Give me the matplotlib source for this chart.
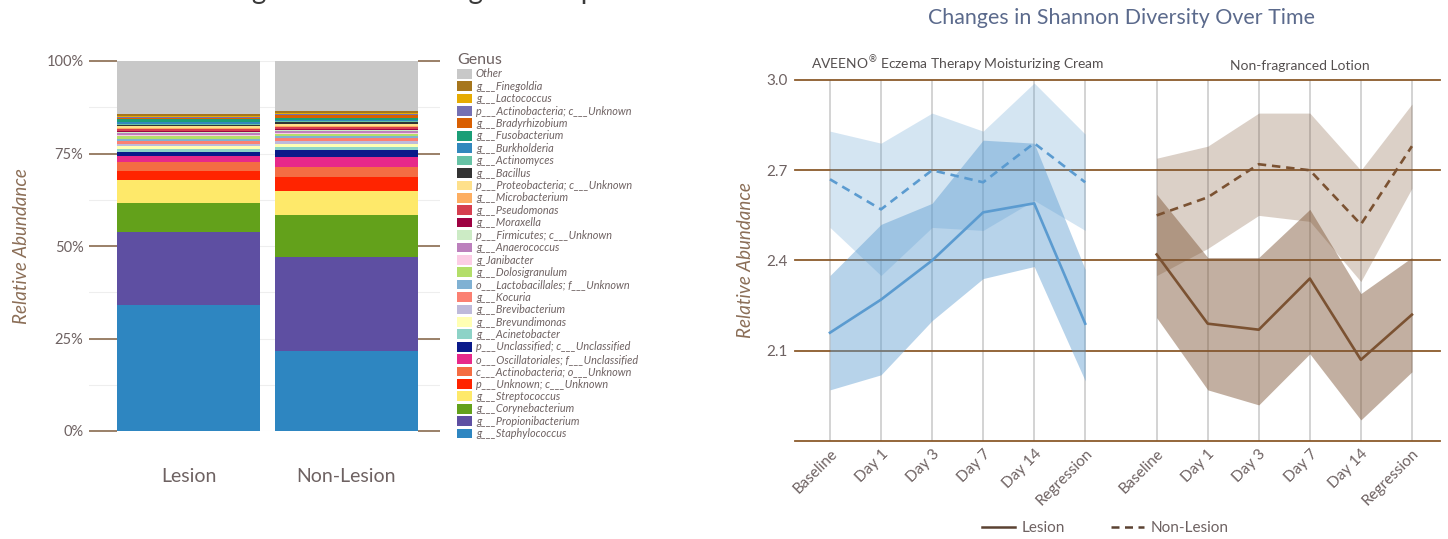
from matplotlib import pyplot as plt
from matplotlib.patches import Patch
from matplotlib.lines import Line2D
import numpy as np

plt.rcParams['font.family'] = ['Lato', 'DejaVu Sans']

# ---- left chart: genus composition (stacking order, bottom to top) ----
genera = ['g___Staphylococcus', 'g___Propionibacterium', 'g___Corynebacterium',
          'g___Streptococcus', 'p___Unknown; c___Unknown', 'c___Actinobacteria; o___Unknown',
          'o___Oscillatoriales; f___Unclassified', 'p___Unclassified; c___Unclassified',
          'g___Acinetobacter', 'g___Brevundimonas', 'g___Brevibacterium', 'g___Kocuria',
          'o___Lactobacillales; f___Unknown', 'g___Dolosigranulum', 'g_Janibacter',
          'g___Anaerococcus', 'p___Firmicutes; c___Unknown', 'g___Moraxella',
          'g___Pseudomonas', 'g___Microbacterium', 'p___Proteobacteria; c___Unknown',
          'g___Bacillus', 'g___Actinomyces', 'g___Burkholderia', 'g___Fusobacterium',
          'g___Bradyrhizobium', 'p___Actinobacteria; c___Unknown', 'g___Lactococcus',
          'g___Finegoldia', 'Other']
lesion = [34.0, 19.8, 7.9, 6.1, 2.5, 2.3, 1.6, 1.1, 0.9, 0.9, 0.5, 0.9, 0.3, 0.8, 0.3,
          0.6, 0.3, 0.3, 0.4, 0.4, 0.5, 0.2, 0.3, 0.6, 0.7, 0.3, 0.4, 0.3, 0.4, 14.4]
non_lesion = [21.6, 25.3, 11.5, 6.5, 3.8, 2.7, 2.7, 1.8, 0.8, 0.9, 0.9, 0.7, 0.6, 0.4, 0.3,
              0.5, 0.4, 0.3, 0.4, 0.4, 0.4, 0.5, 0.3, 0.4, 0.4, 0.8, 0.3, 0.4, 0.5, 13.5]
groups = ['Lesion', 'Non-Lesion']

genus_colors = ['#2e86c1', '#5e4fa2', '#63a11b', '#fee96a', '#ff2400', '#f46d43',
                '#e7298a', '#0a1a8a', '#8dd3c7', '#ffffb3', '#bebada', '#fb8072',
                '#80b1d3', '#b3de69', '#fccde5', '#bc80bd', '#ccebc5', '#9e0142',
                '#d53e4f', '#fdae61', '#fee08b', '#333333', '#66c2a5', '#3288bd',
                '#1b9e77', '#d95f02', '#7570b3', '#e6ab02', '#a6761d', '#c8c8c8']

# ---- right chart: Shannon diversity ----
timepoints = ['Baseline', 'Day 1', 'Day 3', 'Day 7', 'Day 14', 'Regression']
aveeno_lesion = [2.16, 2.27, 2.40, 2.56, 2.59, 2.19]
aveeno_lesion_lo = [1.97, 2.02, 2.20, 2.34, 2.38, 2.00]
aveeno_lesion_hi = [2.35, 2.52, 2.59, 2.80, 2.79, 2.37]
aveeno_nonlesion = [2.67, 2.57, 2.70, 2.66, 2.79, 2.66]
aveeno_nonlesion_lo = [2.51, 2.35, 2.51, 2.50, 2.60, 2.50]
aveeno_nonlesion_hi = [2.83, 2.79, 2.89, 2.83, 2.99, 2.82]
lotion_lesion = [2.42, 2.19, 2.17, 2.34, 2.07, 2.22]
lotion_lesion_lo = [2.21, 1.97, 1.92, 2.09, 1.87, 2.03]
lotion_lesion_hi = [2.62, 2.41, 2.41, 2.57, 2.29, 2.41]
lotion_nonlesion = [2.55, 2.61, 2.72, 2.70, 2.52, 2.78]
lotion_nonlesion_lo = [2.35, 2.44, 2.55, 2.53, 2.33, 2.64]
lotion_nonlesion_hi = [2.74, 2.78, 2.89, 2.89, 2.70, 2.92]
products = ['AVEENO$^{\u00ae}\\,$Eczema Therapy Moisturizing Cream', 'Non-fragranced Lotion']

W, H = 1448, 539
grey_txt = '#6e6262'
brown_lbl = '#8b6e57'

fig = plt.figure(figsize=(W / 100, H / 100), dpi=100)

# title of the left panel, cut by the top edge as in the reference
fig.text(405 / W, 1 + 1 / H, 'Average Bacteria Among All Samples', ha='center',
         va='baseline', fontsize=20, color='#3a3a3a')

# ================= left: stacked bars =================
ax1 = fig.add_axes([89 / W, 1 - 431 / H, 351 / W, 370 / H])
xb = np.arange(len(groups))
bw = 0.905
for yy in np.arange(0, 101, 12.5):
    ax1.axhline(yy, color='#eeeeee', lw=0.8, zorder=0)
for yy in [0, 25, 50, 75, 100]:
    ax1.hlines(yy, -0.63, -bw / 2, color='#9a8068', lw=1.4, zorder=1, clip_on=False)
    ax1.hlines(yy, 1 + bw / 2, 1.592, color='#9a8068', lw=1.4, zorder=1, clip_on=False)

bottoms = np.zeros(len(groups))
handles = []
for name, l, n, c in zip(genera, lesion, non_lesion, genus_colors):
    vals = np.array([l, n])
    ax1.bar(xb, vals, bottom=bottoms, width=bw, color=c, lw=0, zorder=2)
    bottoms += vals
    handles.append(Patch(facecolor=c, edgecolor='none', label=name))

ax1.set_xlim(-0.63, 1.592)
ax1.set_ylim(0, 100)
ax1.set_yticks([0, 25, 50, 75, 100], ['0%', '25%', '50%', '75%', '100%'])
ax1.set_xticks(xb, groups)
ax1.tick_params(axis='y', length=0, pad=4, labelsize=10.5, labelcolor=grey_txt)
ax1.tick_params(axis='x', length=0, pad=27, labelsize=14, labelcolor=grey_txt)
for s in ax1.spines.values():
    s.set_visible(False)
ax1.set_ylabel('Relative Abundance', fontsize=13.5, style='italic', color=brown_lbl,
               labelpad=12)

leg1 = fig.legend(handles[::-1], [h.get_label() for h in handles[::-1]],
                  loc='upper left', bbox_to_anchor=(457 / W, 1 - 53 / H),
                  title='Genus', frameon=False, borderpad=0, borderaxespad=0,
                  handlelength=1.4, handleheight=1.0, handletextpad=0.35,
                  labelspacing=0.13, prop={'size': 7.8, 'style': 'italic'},
                  labelcolor=grey_txt, alignment='left')
leg1.get_title().set_fontsize(11.5)
leg1.get_title().set_color(grey_txt)

# ================= right: diversity over time =================
blue = '#5b9bd0'
brown = '#7b5232'
x1 = np.arange(len(timepoints))
x2 = x1 + 6.4

ax2 = fig.add_axes([795 / W, 1 - 441 / H, 645 / W, 361 / H])
ax2.set_xlim(-0.685, 11.95)
ax2.set_ylim(1.8, 3.0)
for xv in np.concatenate([x1, x2]):
    ax2.axvline(xv, color='#d0d0d0', lw=1.3, zorder=0)
for yy in [1.8, 2.1, 2.4, 2.7, 3.0]:
    ax2.axhline(yy, color='#8b5a2b', lw=1.3, zorder=1, clip_on=False)

ax2.fill_between(x1, aveeno_nonlesion_lo, aveeno_nonlesion_hi, color=blue, alpha=0.26, lw=0, zorder=2)
ax2.fill_between(x1, aveeno_lesion_lo, aveeno_lesion_hi, color=blue, alpha=0.44, lw=0, zorder=2)
ax2.plot(x1, aveeno_nonlesion, color=blue, lw=1.9, ls=(0, (3.2, 2.2)), zorder=3)
ax2.plot(x1, aveeno_lesion, color=blue, lw=1.9, zorder=3)

ax2.fill_between(x2, lotion_nonlesion_lo, lotion_nonlesion_hi, color=brown, alpha=0.27, lw=0, zorder=2)
ax2.fill_between(x2, lotion_lesion_lo, lotion_lesion_hi, color=brown, alpha=0.46, lw=0, zorder=2)
ax2.plot(x2, lotion_nonlesion, color=brown, lw=1.9, ls=(0, (3.2, 2.2)), zorder=3)
ax2.plot(x2, lotion_lesion, color=brown, lw=1.9, zorder=3)

ax2.set_yticks([2.1, 2.4, 2.7, 3.0], ['2.1', '2.4', '2.7', '3.0'])
ax2.set_xticks(np.concatenate([x1, x2]), timepoints + timepoints)
ax2.tick_params(axis='y', length=0, pad=5, labelsize=11, labelcolor=grey_txt)
ax2.tick_params(axis='x', length=0, pad=4, labelsize=11, labelcolor=grey_txt)
for t in ax2.get_xticklabels():
    t.set_rotation(45)
    t.set_ha('right')
    t.set_va('top')
    t.set_rotation_mode('anchor')
for s in ax2.spines.values():
    s.set_visible(False)
ax2.set_ylabel('Relative Abundance', fontsize=13.5, style='italic', color=brown_lbl,
               labelpad=9)

for cx, name in zip([x1.mean(), 9.2], products):
    ax2.annotate(name, (cx, 3.0), xytext=(0, 7.5), textcoords='offset points',
                 ha='center', va='baseline', fontsize=10, color='#555050',
                 annotation_clip=False)

fig.text(1121 / W, 1 - 18 / H, 'Changes in Shannon Diversity Over Time', ha='center',
         va='center', fontsize=15.4, color='#5b6a8c')

line_col = '#5b4232'
fig.legend([Line2D([], [], color=line_col, lw=1.8),
            Line2D([], [], color=line_col, lw=1.8, ls=(0, (3.2, 2.2)))],
           ['Lesion', 'Non-Lesion'], loc='center', bbox_to_anchor=(1105 / W, 1 - 528 / H),
           ncol=2, frameon=False, handlelength=2.2, handletextpad=0.4,
           columnspacing=3.0, labelcolor=grey_txt, prop={'size': 11})

fig.savefig('out.png', dpi=100)
